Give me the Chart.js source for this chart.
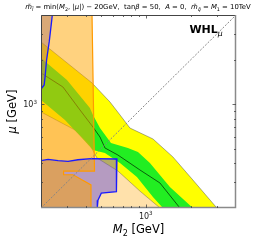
<!DOCTYPE html>
<html>
<head>
<meta charset="utf-8">
<script src="https://cdn.jsdelivr.net/npm/chart.js@4.4.0/dist/chart.umd.min.js"></script>
<style>
  html, body { margin: 0; padding: 0; background: #fff; }
  #wrap { width: 257px; height: 242px; position: relative; }
</style>
</head>
<body>
<div id="wrap"><canvas id="whl"></canvas></div>
<script>
// contours, points are [M2, mu] in GeV
const yellowUpper = [[200,2633],[438,1393],[577,1037],[673,848],[784,692],[1117,584],[1517,442],[2062,309],[2982,200]];
const greenUpper  = [[200,2053],[298,1460],[424,945],[444,848],[495,692],[586,549],[760,508],[887,477],[1066,402],[1449,277],[2062,200]];
const bestFit     = [[200,1627],[280,1309],[364,916],[444,703],[495,602],[534,508],[652,455],[914,361],[1243,295],[1690,200]];
const greenLower  = [[200,1070],[289,784],[370,602],[444,492],[534,470],[673,402],[873,324],[1117,237],[1302,200]];
const yellowLower = [[200,888],[337,671],[424,532],[472,435],[652,355],[914,260],[1243,200]];

// excluded regions
const orangeEdge = [[438,4000],[455,355],[283,355],[283,335],[327,335],[431,286],[431,200]];
const blueTop    = [[238,4000],[236,3705],[227,2645],[218,1991],[213,1536],[210,1350],[202,1283],[200,1283]];
const blueBottom = [[200,417],[223,426],[260,417],[303,413],[353,423],[431,430],[642,428],[642,309],[635,295],[635,258],[505,252],[480,226],[475,200]];

const axisMin = 200, axisMax = 4000;
const diagonal = [[axisMin,axisMin],[axisMax,axisMax]];   // M2 = mu
const majorTicks = [1000];
const minorTicks = [300,400,500,600,700,800,900,2000,3000];

const pts = arr => arr.map(p => ({x: p[0], y: p[1]}));
const rev = arr => arr.slice().reverse();

function area(data, color, order, line) {
  return {
    data: pts(data), showLine: true, fill: 'shape', backgroundColor: color,
    borderColor: line ? line.color : 'rgba(0,0,0,0)', borderWidth: line ? line.width : 0,
    pointRadius: 0, tension: 0, order: order, clip: 0
  };
}
function curve(data, color, width, order) {
  return {
    data: pts(data), showLine: true, fill: false, borderColor: color, borderWidth: width,
    pointRadius: 0, tension: 0, order: order, clip: 0
  };
}

const edge = {color: 'rgba(70,70,70,0.75)', width: 0.6};

const datasets = [
  area(yellowUpper.concat(rev(yellowLower)), '#ffff00', 9, edge),
  area(greenUpper.concat(rev(greenLower)), '#22ee22', 8),
  curve(bestFit, '#0b5e0b', 1, 7),
  area(yellowLower.concat([[200,200]]), 'rgba(255,165,0,0.33)', 6),
  area(blueBottom.concat([[200,200]]), 'rgba(90,70,220,0.45)', 5),
  area([[200,4000]].concat(blueTop), 'rgba(90,70,220,0.45)', 5),
  area([[200,4000]].concat(orangeEdge, [[200,200]]), 'rgba(255,165,0,0.5)', 4),
  curve(orangeEdge, '#ff9a00', 1.2, 3),
  curve(blueBottom, '#1a1aff', 1.3, 2),
  curve(blueTop, '#1a1aff', 1.3, 2)
];

function rich(ctx, segs, x, y, size, align) {
  const fontFor = st => {
    const sz = (st.includes('s') || st.includes('u')) ? size * 0.7 : size;
    return (st.includes('i') ? 'italic ' : '') + (st.includes('b') ? 'bold ' : '') + sz + 'px "DejaVu Sans"';
  };
  let w = 0;
  for (const [t, st] of segs) { ctx.font = fontFor(st); w += ctx.measureText(t).width; }
  let cx = align === 'center' ? x - w / 2 : align === 'right' ? x - w : x;
  for (const [t, st] of segs) {
    ctx.font = fontFor(st);
    const dy = st.includes('s') ? size * 0.25 : st.includes('u') ? -size * 0.45 : 0;
    ctx.fillText(t, cx, y + dy);
    cx += ctx.measureText(t).width;
  }
  return w;
}

const titleSegs = [
  ['m\u0303','i'], ['l\u0303','si'], [' = min(','n'], ['M','i'], ['2','s'], [', |','n'], ['\u03bc','i'],
  ['|) \u2212 20GeV,  tan','n'], ['\u03b2','i'], [' = 50,  ','n'], ['A','i'], [' = 0,  ','n'],
  ['m\u0303','i'], ['q\u0303','si'], [' = ','n'], ['M','i'], ['1','s'], [' = 10TeV','n']
];

const decor = {
  id: 'decor',
  afterDatasetsDraw(chart) {
    // dashed M2 = mu line on top of all the regions
    const {ctx, chartArea: a, scales: {x, y}} = chart;
    ctx.save();
    ctx.beginPath();
    ctx.rect(a.left, a.top, a.right - a.left, a.bottom - a.top);
    ctx.clip();
    ctx.strokeStyle = '#858585';
    ctx.lineWidth = 1;
    ctx.setLineDash([2, 1.5]);
    ctx.beginPath();
    diagonal.forEach((p, i) => {
      const px = x.getPixelForValue(p[0]), py = y.getPixelForValue(p[1]);
      if (i === 0) ctx.moveTo(px, py); else ctx.lineTo(px, py);
    });
    ctx.stroke();
    ctx.restore();
  },
  afterDraw(chart) {
    const {ctx, chartArea: a, scales: {x, y}} = chart;
    ctx.save();
    // frame
    ctx.lineWidth = 1;
    ctx.strokeStyle = '#444';
    ctx.beginPath();
    ctx.moveTo(a.left + 0.5, a.bottom); ctx.lineTo(a.left + 0.5, a.top + 0.5); ctx.lineTo(a.right, a.top + 0.5);
    ctx.stroke();
    ctx.strokeStyle = '#8a8a8a';
    ctx.lineWidth = 1.5;
    ctx.beginPath();
    ctx.moveTo(a.right - 0.5, a.top); ctx.lineTo(a.right - 0.5, a.bottom - 0.5); ctx.lineTo(a.left, a.bottom - 0.5);
    ctx.stroke();
    // inward ticks
    ctx.strokeStyle = '#444';
    ctx.lineWidth = 0.8;
    const tick = (v, len) => {
      const px = Math.round(x.getPixelForValue(v)) + 0.5;
      const py = Math.round(y.getPixelForValue(v)) + 0.5;
      ctx.beginPath();
      ctx.moveTo(px, a.bottom); ctx.lineTo(px, a.bottom - len);
      ctx.moveTo(px, a.top); ctx.lineTo(px, a.top + len);
      ctx.moveTo(a.left, py); ctx.lineTo(a.left + len, py);
      ctx.moveTo(a.right, py); ctx.lineTo(a.right - len, py);
      ctx.stroke();
    };
    minorTicks.forEach(v => tick(v, 2));
    majorTicks.forEach(v => tick(v, 3.5));
    // tick labels
    ctx.fillStyle = '#222';
    ctx.textBaseline = 'alphabetic';
    majorTicks.forEach(v => {
      rich(ctx, [['10','n'], ['3','u']], x.getPixelForValue(v), a.bottom + 11, 8, 'center');
      rich(ctx, [['10','n'], ['3','u']], a.left - 4, y.getPixelForValue(v) + 3, 8, 'right');
    });
    // axis titles
    ctx.fillStyle = '#000';
    rich(ctx, [['M','i'], ['2','s'], [' [GeV]','n']], (a.left + a.right) / 2, 233, 11.5, 'center');
    ctx.save();
    ctx.translate(16, (a.top + a.bottom) / 2);
    ctx.rotate(-Math.PI / 2);
    rich(ctx, [['\u03bc','i'], [' [GeV]','n']], 0, 0, 11.5, 'center');
    ctx.restore();
    // title, sized to the plot width
    ctx.save(); ctx.globalAlpha = 0;
    const w10 = rich(ctx, titleSegs, 0, -100, 10, 'left');
    ctx.restore();
    const ts = 10 * 226 / w10;
    rich(ctx, titleSegs, 138, 9, ts, 'center');
    // model label
    rich(ctx, [['WHL','b'], ['\u03bc','is']], 206, 33, 11, 'center');
    ctx.restore();
  }
};

new Chart(document.getElementById('whl'), {
  type: 'scatter',
  data: {datasets: datasets},
  options: {
    responsive: true,
    maintainAspectRatio: false,
    animation: false,
    layout: {padding: {left: 41, top: 15, right: 21, bottom: 34}},
    plugins: {legend: {display: false}, tooltip: {enabled: false}},
    scales: {
      x: {type: 'logarithmic', min: axisMin, max: axisMax, display: false},
      y: {type: 'logarithmic', min: axisMin, max: axisMax, display: false}
    }
  },
  plugins: [decor]
});
</script>
</body>
</html>
